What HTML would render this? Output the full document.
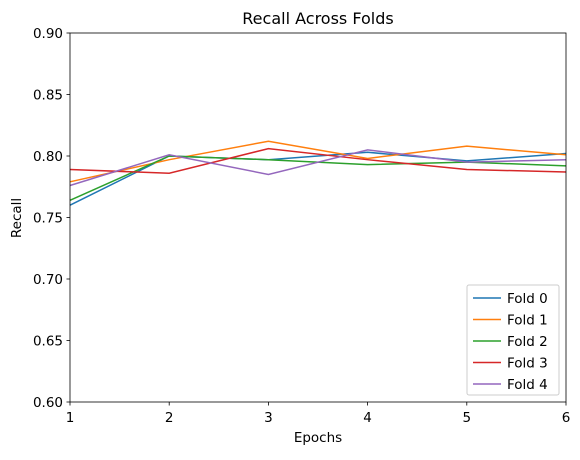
<!DOCTYPE html>
<html><head><meta charset="utf-8"><style>
body{margin:0;background:#fff;font-family:"Liberation Sans","DejaVu Sans",sans-serif}
text{font-family:"DejaVu Sans","Liberation Sans",sans-serif}
</style></head><body>
<svg id="chart" width="580" height="455" xmlns="http://www.w3.org/2000/svg"></svg>
<script>
const epochs=[1,2,3,4,5,6];
const fold0=[0.760,0.800,0.797,0.803,0.796,0.802];
const fold1=[0.779,0.797,0.812,0.798,0.808,0.801];
const fold2=[0.764,0.800,0.797,0.793,0.795,0.792];
const fold3=[0.789,0.786,0.806,0.797,0.789,0.787];
const fold4=[0.776,0.801,0.785,0.805,0.795,0.797];
const seriesNames=["Fold 0","Fold 1","Fold 2","Fold 3","Fold 4"];
const yTicks=[0.60,0.65,0.70,0.75,0.80,0.85,0.90];
const xTicks=[1,2,3,4,5,6];
const colors=["#1f77b4","#ff7f0e","#2ca02c","#d62728","#9467bd"];
const L=70,R=566,T=33,B=402;
const sx=v=>L+(v-1)/(6-1)*(R-L);
const sy=v=>B-(v-0.6)/(0.3)*(B-T);
const svg=document.getElementById('chart');
const NS="http://www.w3.org/2000/svg";
function mk(tag,attrs,parent){const e=document.createElementNS(NS,tag);for(const k in attrs)e.setAttribute(k,attrs[k]);(parent||svg).appendChild(e);return e;}
const series=[fold0,fold1,fold2,fold3,fold4];
series.forEach((s,i)=>{
  const p=mk('polyline',{points:s.map((v,j)=>sx(epochs[j])+','+sy(v)).join(' '),fill:'none',stroke:colors[i],'stroke-width':1.5});
  
  
});
const frame=mk('rect',{x:L,y:T,width:R-L,height:B-T,fill:'none',stroke:'#000','stroke-width':0.8});


yTicks.forEach(v=>{
  mk('line',{x1:L-3.5,x2:L,y1:sy(v),y2:sy(v),stroke:'#000','stroke-width':0.8});
  const t=mk('text',{x:L-7,y:sy(v)+5,'text-anchor':'end','font-size':13.5},svg);t.textContent=v.toFixed(2);
  
  
});
xTicks.forEach(v=>{
  mk('line',{x1:sx(v),x2:sx(v),y1:B,y2:B+3.5,stroke:'#000','stroke-width':0.8});
  const t=mk('text',{x:sx(v),y:B+20,'text-anchor':'middle','font-size':13.5});t.textContent=v;
  
  
});
let t=mk('text',{x:318,y:24,'text-anchor':'middle','font-size':16});t.textContent='Recall Across Folds';


t=mk('text',{x:318,y:442,'text-anchor':'middle','font-size':13.5});t.textContent='Epochs';


t=mk('text',{x:21,y:218,'text-anchor':'middle','font-size':13.5,transform:'rotate(-90 21 218)'});t.textContent='Recall';


const lg=mk('g',{});


mk('rect',{x:467,y:285,width:92,height:110,rx:2,fill:'#fff','fill-opacity':0.8,stroke:'#ccc'},lg);
seriesNames.forEach((n,i)=>{
  const y=298+i*21.5;
  mk('line',{x1:473,x2:501,y1:y,y2:y,stroke:colors[i],'stroke-width':1.5},lg);
  const tx=mk('text',{x:507,y:y+5,'font-size':13.5},lg);tx.textContent=n;
  
  
});
</script>
</body></html>
